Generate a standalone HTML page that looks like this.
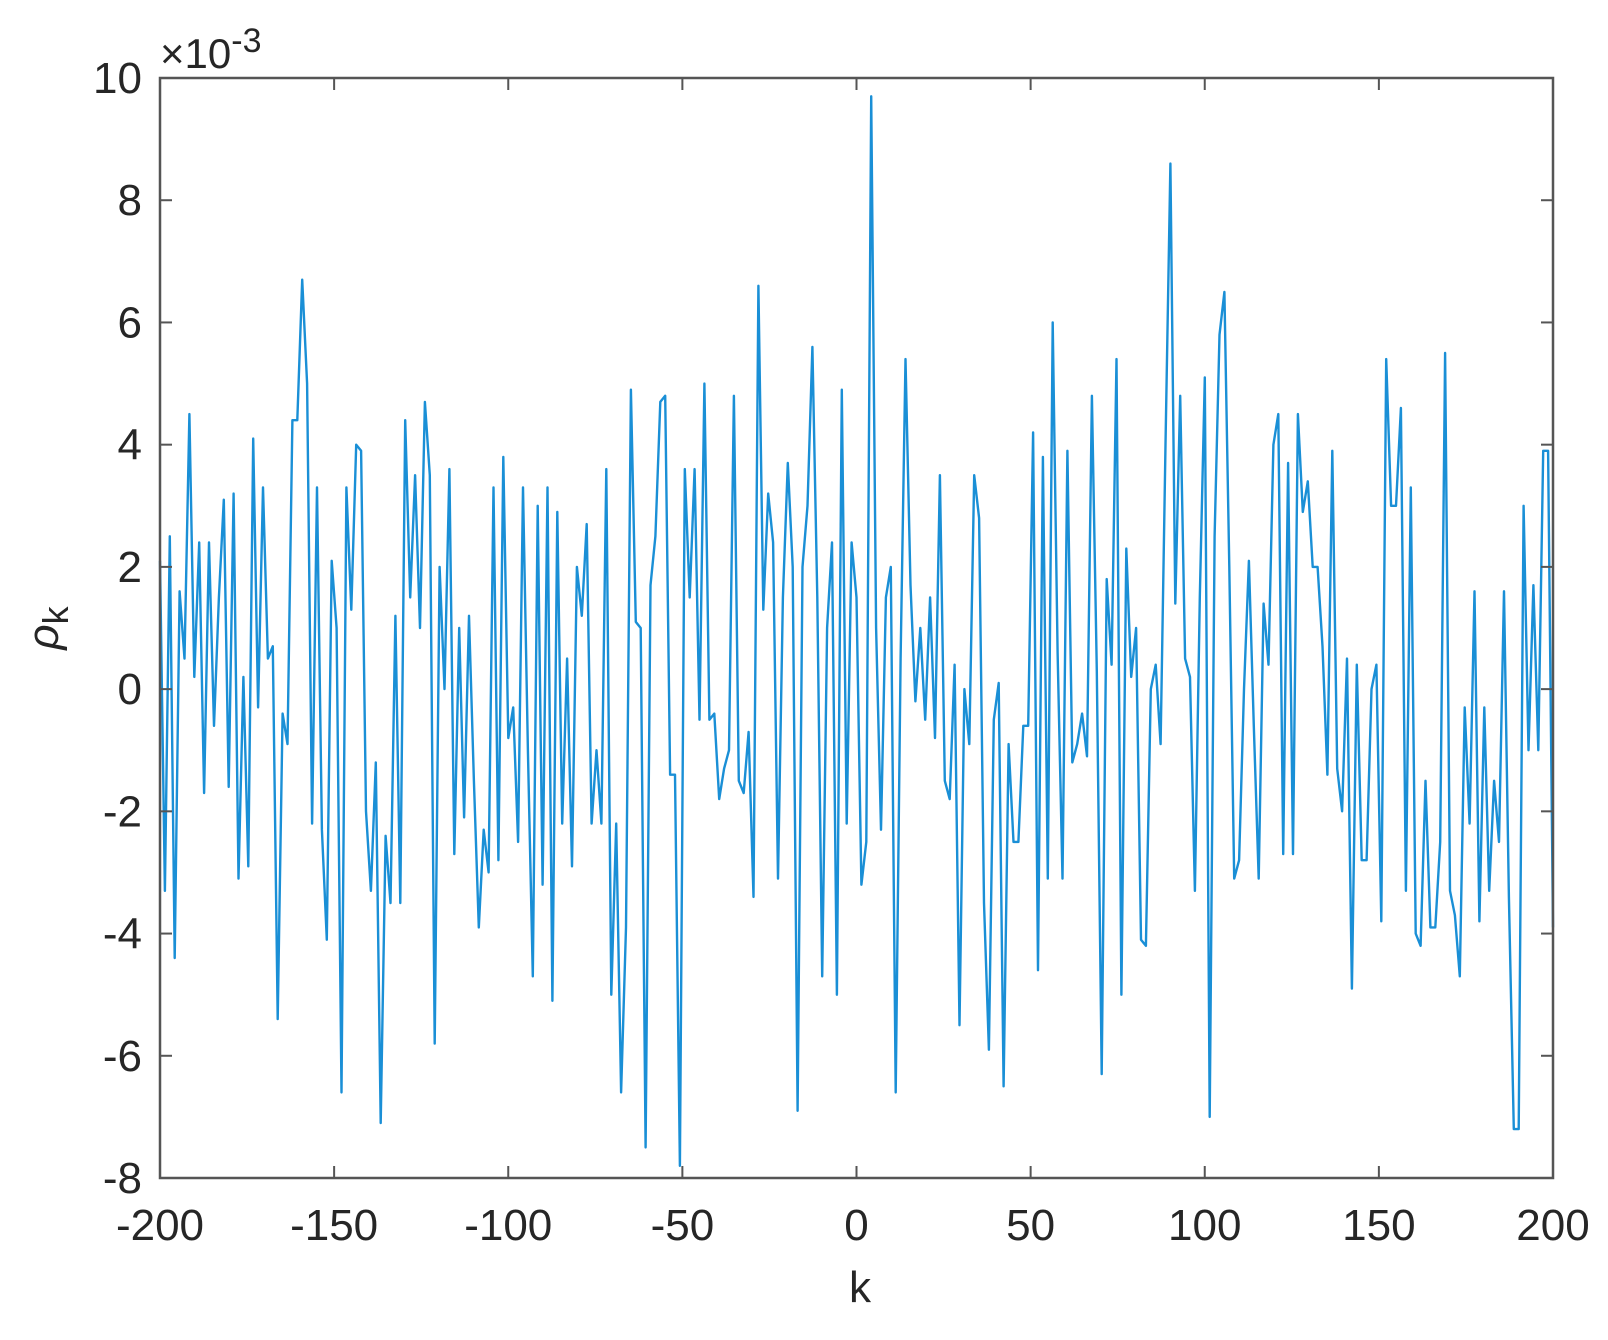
<!DOCTYPE html>
<html><head><meta charset="utf-8"><style>
html,body{margin:0;padding:0;background:#fff;}
svg text{font-family:"Liberation Sans",Arial,sans-serif;fill:#262626;}
</style></head><body>
<svg id="chart" width="1608" height="1335" viewBox="0 0 1608 1335" xmlns="http://www.w3.org/2000/svg">
<path id="series" fill="none" stroke="#1a8fd6" stroke-width="2.4" stroke-linejoin="round"></path>
<rect x="160" y="78" width="1393" height="1100" fill="none" stroke="#555" stroke-width="2.5"/>
<g id="ticks"></g>
<text x="160" y="68" font-size="42" fill="#444">×10<tspan dy="-16" font-size="34">-3</tspan></text>
<text x="860" y="1302" font-size="44" text-anchor="middle">k</text>
<text transform="translate(58,628) rotate(-90)" font-size="44" text-anchor="middle" font-style="italic">ρ<tspan dy="10" font-size="36" font-style="normal">k</tspan></text>
</svg>
<script>
const xTicks=[-200,-150,-100,-50,0,50,100,150,200];
const yTicks=[-8,-6,-4,-2,0,2,4,6,8,10];
const vals=[2.1,-3.3,2.5,-4.4,1.6,0.5,4.5,0.2,2.4,-1.7,2.4,-0.6,1.5,3.1,-1.6,3.2,-3.1,0.2,-2.9,4.1,-0.3,3.3,0.5,0.7,-5.4,-0.4,-0.9,4.4,4.4,6.7,5.0,-2.2,3.3,-2.3,-4.1,2.1,1.0,-6.6,3.3,1.3,4.0,3.9,-2.0,-3.3,-1.2,-7.1,-2.4,-3.5,1.2,-3.5,4.4,1.5,3.5,1.0,4.7,3.5,-5.8,2.0,0.0,3.6,-2.7,1.0,-2.1,1.2,-1.5,-3.9,-2.3,-3.0,3.3,-2.8,3.8,-0.8,-0.3,-2.5,3.3,-1.0,-4.7,3.0,-3.2,3.3,-5.1,2.9,-2.2,0.5,-2.9,2.0,1.2,2.7,-2.2,-1.0,-2.2,3.6,-5.0,-2.2,-6.6,-3.9,4.9,1.1,1.0,-7.5,1.7,2.5,4.7,4.8,-1.4,-1.4,-7.8,3.6,1.5,3.6,-0.5,5.0,-0.5,-0.4,-1.8,-1.3,-1.0,4.8,-1.5,-1.7,-0.7,-3.4,6.6,1.3,3.2,2.4,-3.1,1.5,3.7,2.0,-6.9,2.0,3.0,5.6,1.5,-4.7,1.0,2.4,-5.0,4.9,-2.2,2.4,1.5,-3.2,-2.5,9.7,1.0,-2.3,1.5,2.0,-6.6,0.5,5.4,1.7,-0.2,1.0,-0.5,1.5,-0.8,3.5,-1.5,-1.8,0.4,-5.5,0.0,-0.9,3.5,2.8,-3.5,-5.9,-0.5,0.1,-6.5,-0.9,-2.5,-2.5,-0.6,-0.6,4.2,-4.6,3.8,-3.1,6.0,0.6,-3.1,3.9,-1.2,-0.9,-0.4,-1.1,4.8,0.3,-6.3,1.8,0.4,5.4,-5.0,2.3,0.2,1.0,-4.1,-4.2,0.0,0.4,-0.9,4.0,8.6,1.4,4.8,0.5,0.2,-3.3,1.5,5.1,-7.0,2.5,5.8,6.5,2.0,-3.1,-2.8,0.0,2.1,-0.6,-3.1,1.4,0.4,4.0,4.5,-2.7,3.7,-2.7,4.5,2.9,3.4,2.0,2.0,0.7,-1.4,3.9,-1.3,-2.0,0.5,-4.9,0.4,-2.8,-2.8,0.0,0.4,-3.8,5.4,3.0,3.0,4.6,-3.3,3.3,-4.0,-4.2,-1.5,-3.9,-3.9,-2.5,5.5,-3.3,-3.7,-4.7,-0.3,-2.2,1.6,-3.8,-0.3,-3.3,-1.5,-2.5,1.6,-3.4,-7.2,-7.2,3.0,-1.0,1.7,-1.0,3.9,3.9,-3.9];
const X0=160,X1=1553,Y0=78,Y1=1178;
const xs=k=>X0+(k+200)/400*(X1-X0);
const ys=v=>Y1-(v+8)/18*(Y1-Y0);
const NS='http://www.w3.org/2000/svg';
const tg=document.getElementById('ticks');
function mk(tag,attrs){const e=document.createElementNS(NS,tag);for(const a in attrs)e.setAttribute(a,attrs[a]);tg.appendChild(e);return e;}
xTicks.forEach(t=>{
  const x=xs(t);
  const l1=mk('line',{x1:x,x2:x,y1:Y1,y2:Y1-12,stroke:'#555','stroke-width':2});
  
  
  const l2=mk('line',{x1:x,x2:x,y1:Y0,y2:Y0+12,stroke:'#555','stroke-width':2});
  
  
  const tx=mk('text',{x:x,y:1240,'font-size':44,'text-anchor':'middle'});
  tx.textContent=t;
  
  
});
yTicks.forEach(t=>{
  const y=ys(t);
  const l1=mk('line',{x1:X0,x2:X0+12,y1:y,y2:y,stroke:'#555','stroke-width':2});
  
  
  const l2=mk('line',{x1:X1,x2:X1-12,y1:y,y2:y,stroke:'#555','stroke-width':2});
  
  
  const tx=mk('text',{x:X0-18,y:y+15,'font-size':44,'text-anchor':'end'});
  tx.textContent=t;
  
  
});
const n=vals.length;
let d='';
vals.forEach((v,i)=>{const k=-200+400*i/(n-1);d+=(i?'L':'M')+xs(k).toFixed(1)+','+ys(v).toFixed(1);});
document.getElementById('series').setAttribute('d',d);
</script>
</body></html>
